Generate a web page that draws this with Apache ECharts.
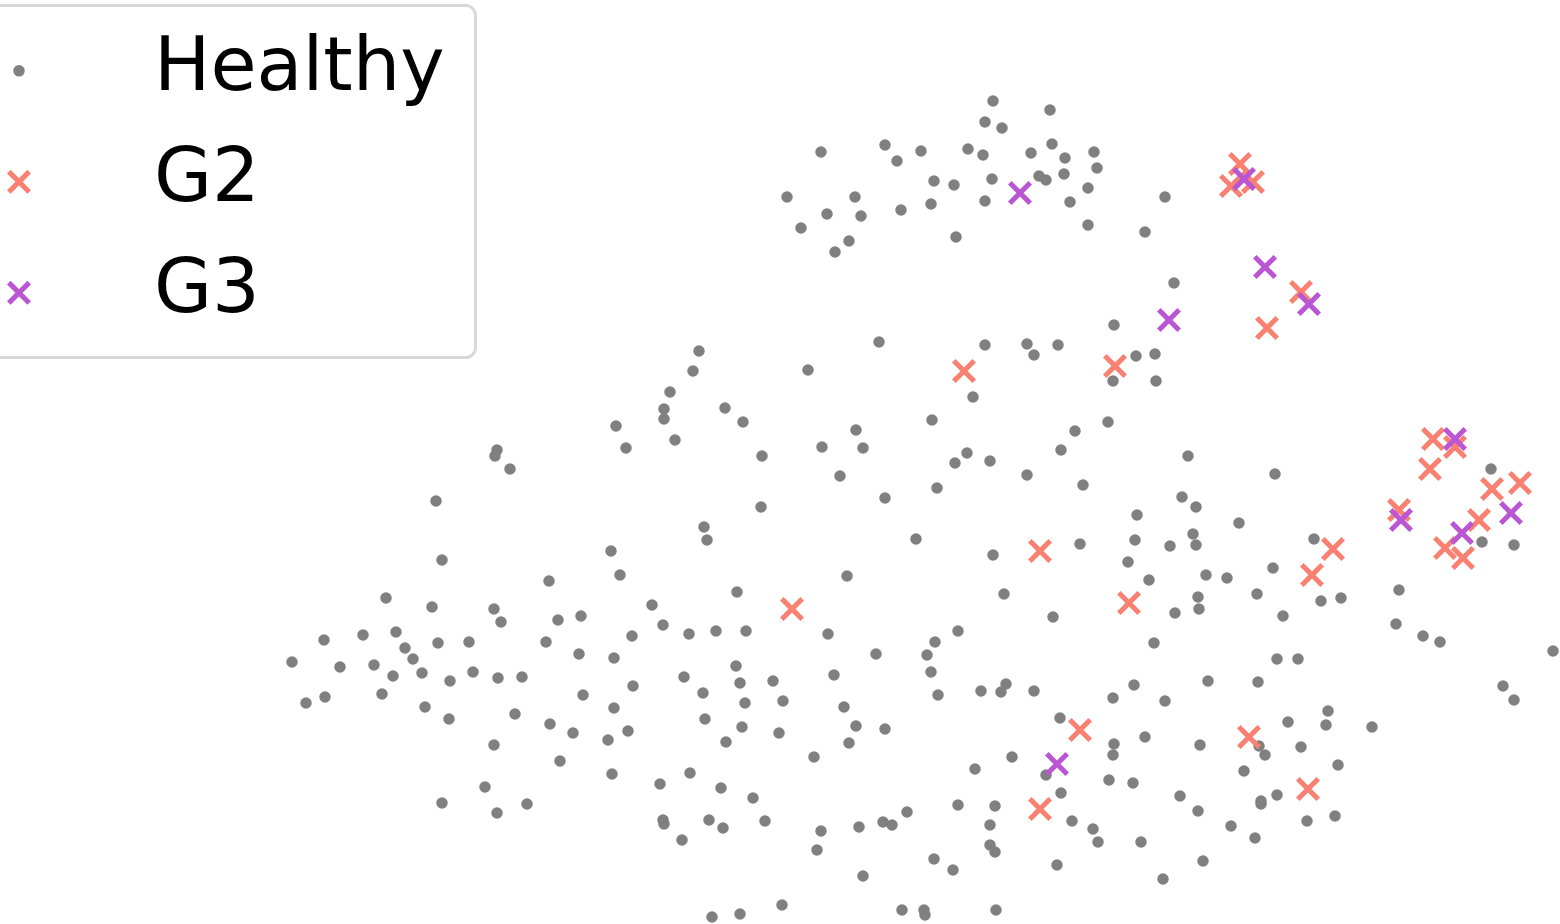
<html>
<head>
    <title>Healthy / G2 / G3</title>
    <script src="https://cdn.jsdelivr.net/npm/echarts@6/dist/echarts.min.js"></script>
</head>
<body style="margin:0;background:#fff;">
    <div id="main" style="width:1560px;height:924px;"></div>
    <script type="text/javascript">
        // positions (x right, y down)
        var healthy = [
            [993,101],[1050,110],[985,122],[1002,128],[821,152],[885,145],[897,161],[921,151],[968,149],[983,155],
            [1031,153],[1052,144],[1065,158],[1094,152],[1097,168],[934,181],[954,185],[992,179],[1039,176],[1046,180],
            [1064,174],[1088,188],[787,197],[855,197],[827,214],[861,216],[801,228],[849,241],[835,252],[901,210],
            [931,204],[985,201],[1070,202],[956,237],[1088,225],[1165,197],[1145,232],[1174,283],[1114,325],[879,342],
            [985,345],[1027,344],[1058,345],[1034,355],[1136,356],[1155,354],[1156,381],[1113,381],
            [699,351],[693,371],[670,392],[664,409],[664,419],[725,408],[743,422],[675,440],[616,426],[626,448],
            [762,456],[497,450],[495,456],[510,469],[436,501],[442,560],[761,507],[704,527],[707,540],[611,551],
            [620,575],[549,581],[386,598],[432,607],[494,609],[501,622],[558,620],[581,616],[652,605],[737,592],[663,625],
            [808,370],[973,397],[932,420],[856,430],[822,447],[863,448],[840,476],[885,498],[967,453],[955,463],
            [990,461],[937,488],[1027,475],[1061,450],[1075,431],[1108,422],[1083,485],[916,539],[993,555],[1080,544],
            [1137,515],[1135,540],[1128,562],[1149,580],[847,576],[1004,594],[1053,617],[1182,497],
            [1188,456],[1275,474],[1196,507],[1239,523],[1193,534],[1170,546],[1196,545],[1206,575],[1227,578],[1198,597],
            [1199,609],[1175,613],[1257,594],[1273,568],[1314,539],[1321,601],[1341,598],[1283,616],[1399,590],[1396,624],
            [1423,636],[1440,642],[1553,651],[1277,659],[1298,659],[1208,681],[1258,682],[1503,686],[1514,700],[1491,469],
            [1482,542],[1514,545],
            [324,640],[363,635],[396,632],[405,648],[413,659],[292,662],[340,667],[374,665],[393,676],[422,673],
            [438,643],[469,642],[450,681],[473,672],[498,678],[522,677],[546,642],[579,654],[614,658],[632,636],
            [689,634],[716,631],[746,631],[736,666],[740,683],[745,703],[742,727],[726,742],[684,677],[703,693],
            [705,719],[633,686],[583,695],[614,708],[628,731],[608,740],[573,733],[550,724],[515,714],[449,719],
            [425,707],[382,694],[325,697],[306,703],[494,745],[560,761],[612,774],[660,784],[690,773],[721,788],
            [753,798],[765,821],[663,820],[664,824],[709,820],[723,828],[682,840],[485,787],[442,803],[497,813],
            [527,804],[712,917],[740,914],
            [828,634],[876,654],[773,681],[783,701],[834,675],[844,707],[856,726],[885,729],[849,743],[779,733],
            [814,757],[958,631],[935,642],[927,655],[931,672],[938,695],[981,691],[1006,684],[1001,692],[1034,691],
            [1154,643],[1134,685],[1113,698],[1165,701],[1060,718],[1114,744],[1113,755],[1145,737],[1012,757],[975,769],
            [1046,775],[1061,793],[1109,780],[1133,783],[1180,796],[958,805],[995,806],[990,825],[990,845],[995,852],
            [1072,821],[1093,829],[1098,842],[1141,842],[1057,865],[1163,879],[821,831],[817,850],[859,827],[883,822],
            [892,825],[907,812],[863,876],[934,859],[953,870],[782,905],[902,910],[924,910],[925,915],[996,910],
            [1328,711],[1326,725],[1372,727],[1288,722],[1200,745],[1259,746],[1265,755],[1301,747],[1244,771],[1338,765],
            [1198,811],[1261,801],[1261,804],[1277,795],[1307,821],[1335,816],[1231,826],[1255,838],[1203,861]
        ];
        var g2 = [
            [1240,164],[1231,186],[1253,182],[1301,292],[1267,328],[964,371],[1115,366],
            [1040,551],[1129,603],[792,609],[1333,549],[1312,575],
            [1433,439],[1455,447],[1430,469],[1492,489],[1520,483],[1479,520],[1445,548],[1463,558],[1399,510],
            [1080,730],[1040,809],[1249,737],[1308,789]
        ];
        var g3 = [
            [1020,193],[1244,179],[1265,267],[1309,304],[1169,320],
            [1455,439],[1511,513],[1462,533],[1401,520],[1057,764]
        ];
        var names = ['Healthy', 'G2', 'G3'];

        // thick "x" marker as a filled path (two crossing bars)
        var cross = 'path://M15,0L100,85L85,100L0,15Z M85,0L100,15L15,100L0,85Z';

        var myChart = echarts.init(document.getElementById('main'));
        var legendText = {
            fontFamily: 'DejaVu Sans',
            fontSize: 75,
            lineHeight: 80,
            color: '#000'
        };
        // one legend per row so each row sits where the reference puts it
        function legendRow(name, iconSize, centerY) {
            return {
                orient: 'vertical',
                left: 19 - iconSize / 2,
                top: centerY - 73.5,
                padding: 0,
                itemWidth: iconSize,
                itemHeight: iconSize,
                selectedMode: false,
                data: [name],
                textStyle: Object.assign({ padding: [0, 0, 0, 154 - (19 + iconSize / 2) - 5] }, legendText)
            };
        }
        var option = {
            animation: false,
            backgroundColor: '#fff',
            grid: { left: 0, right: 0, top: 0, bottom: 0 },
            xAxis: { type: 'value', min: 0, max: 1560, show: false },
            yAxis: { type: 'value', min: 0, max: 924, inverse: true, show: false },
            legend: [
                legendRow(names[0], 11.5, 70),
                legendRow(names[1], 24, 181),
                legendRow(names[2], 24, 292)
            ],
            graphic: [{
                type: 'rect',
                left: -20,
                top: 3,
                shape: { width: 493, height: 352, r: 10 },
                style: { fill: 'none', stroke: '#d9d9d9', lineWidth: 3 },
                z: 10
            }],
            series: [
                {
                    name: names[0],
                    type: 'scatter',
                    symbol: 'circle',
                    symbolSize: 11.5,
                    itemStyle: { color: '#808080', opacity: 1 },
                    data: healthy
                },
                {
                    name: names[1],
                    type: 'scatter',
                    symbol: cross,
                    symbolSize: 24,
                    itemStyle: { color: '#fa8072', opacity: 1 },
                    data: g2
                },
                {
                    name: names[2],
                    type: 'scatter',
                    symbol: cross,
                    symbolSize: 24,
                    itemStyle: { color: '#ba55d3', opacity: 1 },
                    data: g3
                }
            ]
        };
        myChart.setOption(option);
    </script>
</body>
</html>
